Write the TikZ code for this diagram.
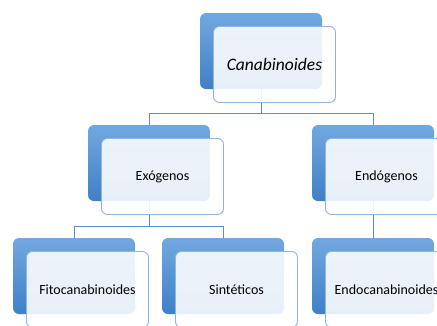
\documentclass[tikz,border=0pt]{standalone}
\usepackage{fontspec}
\setmainfont{Carlito}
\begin{document}
\begin{tikzpicture}[x=1pt,y=-1pt,
  backbox/.style={rectangle, rounded corners=6pt, minimum width=122pt, minimum height=76pt,
    inner sep=0pt, top color=backtop, bottom color=backbot, draw=none},
  frontbox/.style={rectangle, rounded corners=6pt, minimum width=122pt, minimum height=76pt,
    inner sep=0pt, fill=white, fill opacity=0.88, text opacity=1, draw=frontline, line width=0.9pt,
    font=\fontsize{14}{16}\selectfont, text=black},
  conn/.style={draw=connline, line width=0.9pt}]
\definecolor{backtop}{HTML}{72A8E0}
\definecolor{backbot}{HTML}{3F80C6}
\definecolor{frontline}{HTML}{8CB6E4}
\definecolor{connline}{HTML}{5A8ECC}
\useasboundingbox (0,0) rectangle (437,325);
\clip (0,0) rectangle (437,325);
% back boxes (centers = top-left + (61,38))
\node[backbox] (b1) at (261,51) {};
\node[backbox] (b2) at (149,163) {};
\node[backbox] (b3) at (373,163) {};
\node[backbox] (b4) at (74,276) {};
\node[backbox] (b5) at (223,276) {};
\node[backbox] (b6) at (373,276) {};
% connectors
\coordinate (h1) at (261,113);
\coordinate (h2) at (149,226);
\draw[conn] (b1.south) -- (h1);
\draw[conn] (h1) -| (b2.north);
\draw[conn] (h1) -| (b3.north);
\draw[conn] (b2.south) -- (h2);
\draw[conn] (h2) -| (b4.north);
\draw[conn] (h2) -| (b5.north);
\draw[conn] (b3.south) -- (b6.north);
% front boxes
\node[frontbox, font=\fontsize{17.5}{20}\selectfont\itshape] (f1) at (274.5,64.5) {Canabinoides};
\node[frontbox] (f2) at (162.5,176.5) {Exógenos};
\node[frontbox] (f3) at (386.5,176.5) {Endógenos};
\node[frontbox] (f4) at (87.5,289.5) {Fitocanabinoides};
\node[frontbox] (f5) at (236.5,289.5) {Sintéticos};
\node[frontbox] (f6) at (386.5,289.5) {Endocanabinoides};
\end{tikzpicture}
\end{document}
